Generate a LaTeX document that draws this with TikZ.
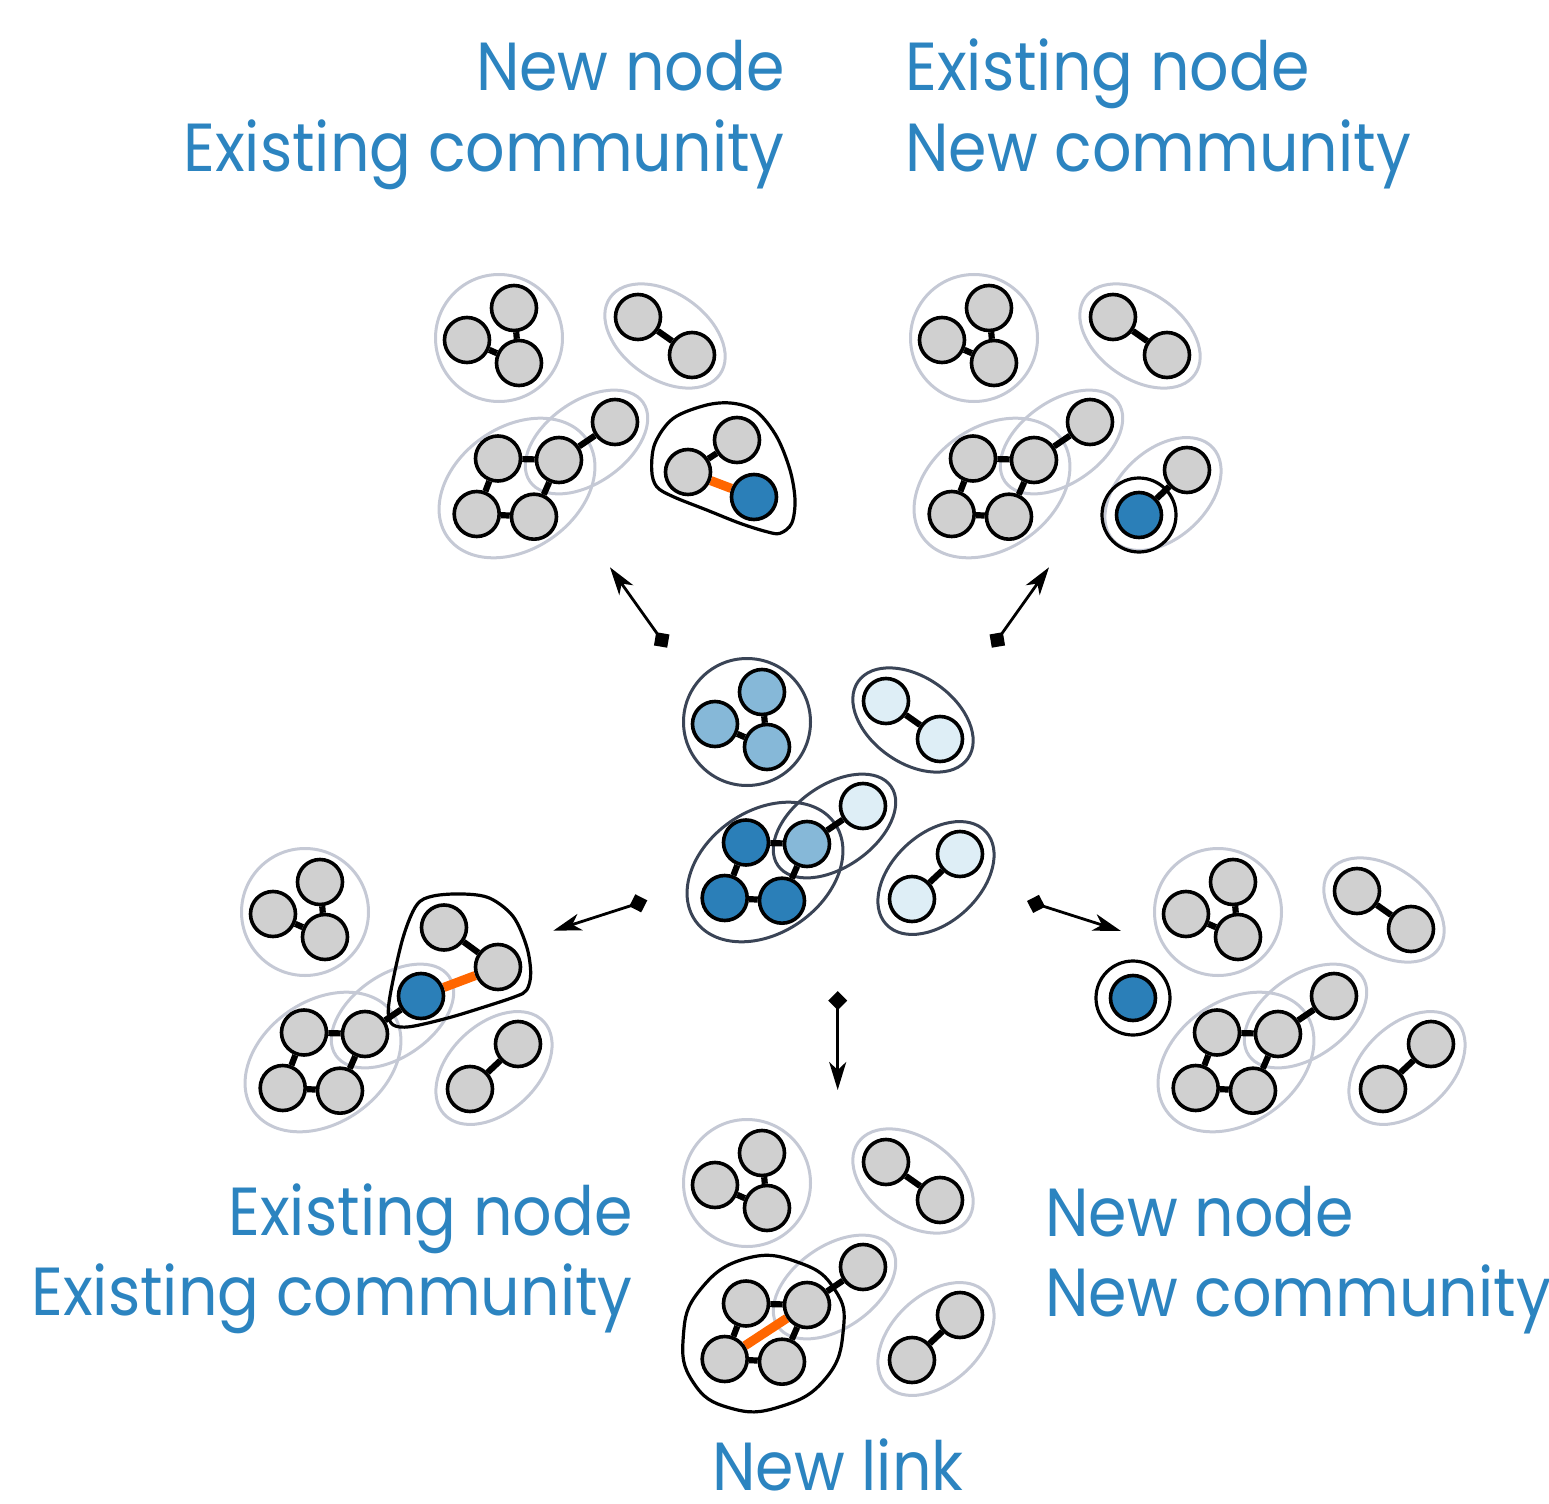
\documentclass[tikz,border=0pt]{standalone}
\usepackage{fontspec}
\setmainfont{Poppins}
\usetikzlibrary{shapes.geometric,arrows.meta}
\pgfdeclarelayer{ell}\pgfdeclarelayer{edg}
\pgfsetlayers{ell,edg,main}
\definecolor{dblue}{HTML}{2B7FB8}
\definecolor{mblue}{HTML}{86B8D8}
\definecolor{lblue}{HTML}{DEEEF6}
\definecolor{ngray}{HTML}{D0D0D0}
\definecolor{egray}{HTML}{C5C9D5}
\definecolor{slate}{HTML}{3A4456}
\definecolor{lorange}{HTML}{FF6600}
\definecolor{tblue}{HTML}{2C84C0}
\tikzset{
 nd/.style={circle, draw=black, line width=1.8pt, minimum size=22.5pt, inner sep=0pt},
 lk/.style={line width=3.1pt, black},
 olk/.style={line width=4.6pt, lorange},
 comm/.style={ellipse, draw=#1, line width=1.5pt, inner sep=0pt},
 ringnd/.style={circle, draw=black, line width=1.6pt, minimum size=37pt, inner sep=0pt},
 blob/.style={draw=black, line width=1.6pt},
 arr/.style={line width=1.4pt, {Turned Square[length=9.5pt,width=9.5pt]}-{Stealth[length=14pt,width=8.5pt,inset=4pt]}},
 lbl/.style={text=tblue, inner sep=0pt, font=\fontsize{34}{40}\selectfont}
}
\newcommand\lt[1]{\scalebox{0.91}[1]{#1}}
% node groups
\newcommand\nodesA[2]{%
 \node[nd, fill=#2] (#1a1) at (762,692) {};
 \node[nd, fill=#2] (#1a2) at (715,724) {};
 \node[nd, fill=#2] (#1a3) at (767,747) {};
 \begin{pgfonlayer}{edg}\draw[lk] (#1a1) -- (#1a3) (#1a2) -- (#1a3);\end{pgfonlayer}}
\newcommand\nodesB[2]{%
 \node[nd, fill=#2] (#1b1) at (886,701) {};
 \node[nd, fill=#2] (#1b2) at (940,739) {};
 \begin{pgfonlayer}{edg}\draw[lk] (#1b1) -- (#1b2);\end{pgfonlayer}}
\newcommand\nodesC[3]{%
 \node[nd, fill=#2] (#1c1) at (746,842.5) {};
 \node[nd, fill=#3] (#1c2) at (807,844) {};
 \node[nd, fill=#2] (#1c3) at (724.7,898) {};
 \node[nd, fill=#2] (#1c4) at (782,900.7) {};
 \begin{pgfonlayer}{edg}\draw[lk] (#1c1) -- (#1c2) (#1c1) -- (#1c3) (#1c3) -- (#1c4) (#1c4) -- (#1c2);\end{pgfonlayer}}
\newcommand\nodesD[2]{%
 \node[nd, fill=#2] (#1d1) at (863,806) {};
 \begin{pgfonlayer}{edg}\draw[lk] (#1d1) -- (#1c2);\end{pgfonlayer}}
\newcommand\nodesE[3]{%
 \node[nd, fill=#2] (#1e1) at (960,854) {};
 \node[nd, fill=#3] (#1e2) at (912,899) {};
 \begin{pgfonlayer}{edg}\draw[lk] (#1e1) -- (#1e2);\end{pgfonlayer}}
% community ellipses
\newcommand\ellA[2]{\begin{pgfonlayer}{ell}\node[comm=#2, minimum width=63.5pt, minimum height=63.5pt] (#1ea) at (747,722) {};\end{pgfonlayer}}
\newcommand\ellB[2]{\begin{pgfonlayer}{ell}\node[comm=#2, minimum width=67pt, minimum height=43pt, rotate=-35] (#1eb) at (913,720) {};\end{pgfonlayer}}
\newcommand\ellC[2]{\begin{pgfonlayer}{ell}\node[comm=#2, minimum width=85pt, minimum height=61pt, rotate=35] (#1ec) at (765,872) {};\end{pgfonlayer}}
\newcommand\ellD[2]{\begin{pgfonlayer}{ell}\node[comm=#2, minimum width=69pt, minimum height=41pt, rotate=35] (#1ed) at (834.5,826) {};\end{pgfonlayer}}
\newcommand\ellE[2]{\begin{pgfonlayer}{ell}\node[comm=#2, minimum width=68pt, minimum height=44pt, rotate=43] (#1ee) at (936,878) {};\end{pgfonlayer}}
\begin{document}
\begin{tikzpicture}[x=0.5pt,y=-0.5pt]
\useasboundingbox (0,0) rectangle (1549,1504);
% ---------- centre ----------
\nodesA{m}{mblue}\nodesB{m}{lblue}\nodesC{m}{dblue}{mblue}\nodesD{m}{lblue}\nodesE{m}{lblue}{lblue}
\ellA{m}{slate}\ellB{m}{slate}\ellC{m}{slate}\ellD{m}{slate}\ellE{m}{slate}
% ---------- top left: new node, existing community ----------
\begin{scope}[shift={(-248,-384)}]
\nodesA{tl}{ngray}\nodesB{tl}{ngray}\nodesC{tl}{ngray}{ngray}\nodesD{tl}{ngray}
\ellA{tl}{egray}\ellB{tl}{egray}\ellC{tl}{egray}\ellD{tl}{egray}
\end{scope}
\node[nd, fill=ngray] (tlx1) at (737,440) {};
\node[nd, fill=ngray] (tlx2) at (688,472) {};
\node[nd, fill=dblue] (tlx3) at (754,497) {};
\begin{pgfonlayer}{edg}\draw[lk] (tlx1) -- (tlx2);\draw[olk] (tlx2) -- (tlx3);\end{pgfonlayer}
\draw[blob] plot[smooth cycle, tension=0.55] coordinates {(706.7,405) (733.3,403.3) (756.7,411.7) (776.7,436.7) (790,470) (795,500) (791.7,523.3) (780,533.3) (766.7,531.7) (740,523.3) (706.7,510) (673.3,496.7) (656.7,486.7) (651.7,470) (655,443.3) (673.3,418.3)};
% ---------- top right: existing node, new community ----------
\begin{scope}[shift={(227,-384)}]
\nodesA{tr}{ngray}\nodesB{tr}{ngray}\nodesC{tr}{ngray}{ngray}\nodesD{tr}{ngray}\nodesE{tr}{ngray}{dblue}
\ellA{tr}{egray}\ellB{tr}{egray}\ellC{tr}{egray}\ellD{tr}{egray}\ellE{tr}{egray}
\node[ringnd] (trring) at (912,899) {};
\end{scope}
% ---------- bottom left: existing node, existing community ----------
\begin{scope}[shift={(-442,190)}]
\nodesA{bl}{ngray}\nodesC{bl}{ngray}{ngray}\nodesD{bl}{dblue}\nodesE{bl}{ngray}{ngray}
\ellA{bl}{egray}\ellC{bl}{egray}\ellD{bl}{egray}\ellE{bl}{egray}
\end{scope}
\node[nd, fill=ngray] (blx1) at (444,927.5) {};
\node[nd, fill=ngray] (blx2) at (498,967) {};
\begin{pgfonlayer}{edg}\draw[lk] (blx1) -- (blx2);\draw[olk] (bld1) -- (blx2);\end{pgfonlayer}
\draw[blob] plot[smooth cycle, tension=0.55] coordinates {(416.7,905) (433.3,896) (463.3,894) (490,898.3) (513.3,916.7) (526.7,946.7) (530.7,973.3) (526.7,990) (515,996.7) (480,1008.3) (446.7,1018.3) (410,1026.7) (393.3,1025) (388.3,1013.3) (391.7,986.7) (403.3,936.7)};
% ---------- bottom: new link ----------
\begin{scope}[shift={(0,461)}]
\nodesA{bo}{ngray}\nodesB{bo}{ngray}\nodesC{bo}{ngray}{ngray}\nodesD{bo}{ngray}\nodesE{bo}{ngray}{ngray}
\ellA{bo}{egray}\ellB{bo}{egray}\ellD{bo}{egray}\ellE{bo}{egray}
\begin{pgfonlayer}{edg}\draw[olk] (boc3) -- (boc2);\end{pgfonlayer}
\end{scope}
\draw[blob] plot[smooth cycle, tension=0.8] coordinates {(746.7,1258.3) (800,1263) (835,1290) (843.3,1330) (826,1378) (780,1406.7) (730,1408) (693,1382) (683.3,1336.7) (700,1290)};
% ---------- bottom right: new node, new community ----------
\begin{scope}[shift={(471,190)}]
\nodesA{br}{ngray}\nodesB{br}{ngray}\nodesC{br}{ngray}{ngray}\nodesD{br}{ngray}\nodesE{br}{ngray}{ngray}
\ellA{br}{egray}\ellB{br}{egray}\ellC{br}{egray}\ellD{br}{egray}\ellE{br}{egray}
\end{scope}
\node[nd, fill=dblue] (brnew) at (1133,998) {};
\node[ringnd] (brring) at (brnew) {};
% ---------- arrows ----------
\coordinate (t1) at (667.2,647.7); \coordinate (h1) at (610,567.3);
\coordinate (t2) at (991.8,647.7); \coordinate (h2) at (1049,567.3);
\coordinate (t3) at (647.3,900.4); \coordinate (h3) at (553.3,930.7);
\coordinate (t4) at (1027,901);    \coordinate (h4) at (1121,931);
\coordinate (t5) at (837.7,991.2); \coordinate (h5) at (837.7,1090);
\draw[arr] (t1) -- (h1);
\draw[arr] (t2) -- (h2);
\draw[arr] (t3) -- (h3);
\draw[arr] (t4) -- (h4);
\draw[arr] (t5) -- (h5);
% ---------- labels ----------
\node[lbl, anchor=base east] (L1a) at (785,91) {\lt{New node}};
\node[lbl, anchor=base east] (L1b) at (785,171) {\lt{Existing community}};
\node[lbl, anchor=base west] (L2a) at (905,91) {\lt{Existing node}};
\node[lbl, anchor=base west] (L2b) at (905,171) {\lt{New community}};
\node[lbl, anchor=base east] (L3a) at (633,1235) {\lt{Existing node}};
\node[lbl, anchor=base east] (L3b) at (633,1315) {\lt{Existing community}};
\node[lbl, anchor=base west] (L4a) at (1045,1236) {\lt{New node}};
\node[lbl, anchor=base west] (L4b) at (1045,1316) {\lt{New community}};
\node[lbl, anchor=base] (L5) at (838,1490) {\lt{New link}};
\end{tikzpicture}
\end{document}
